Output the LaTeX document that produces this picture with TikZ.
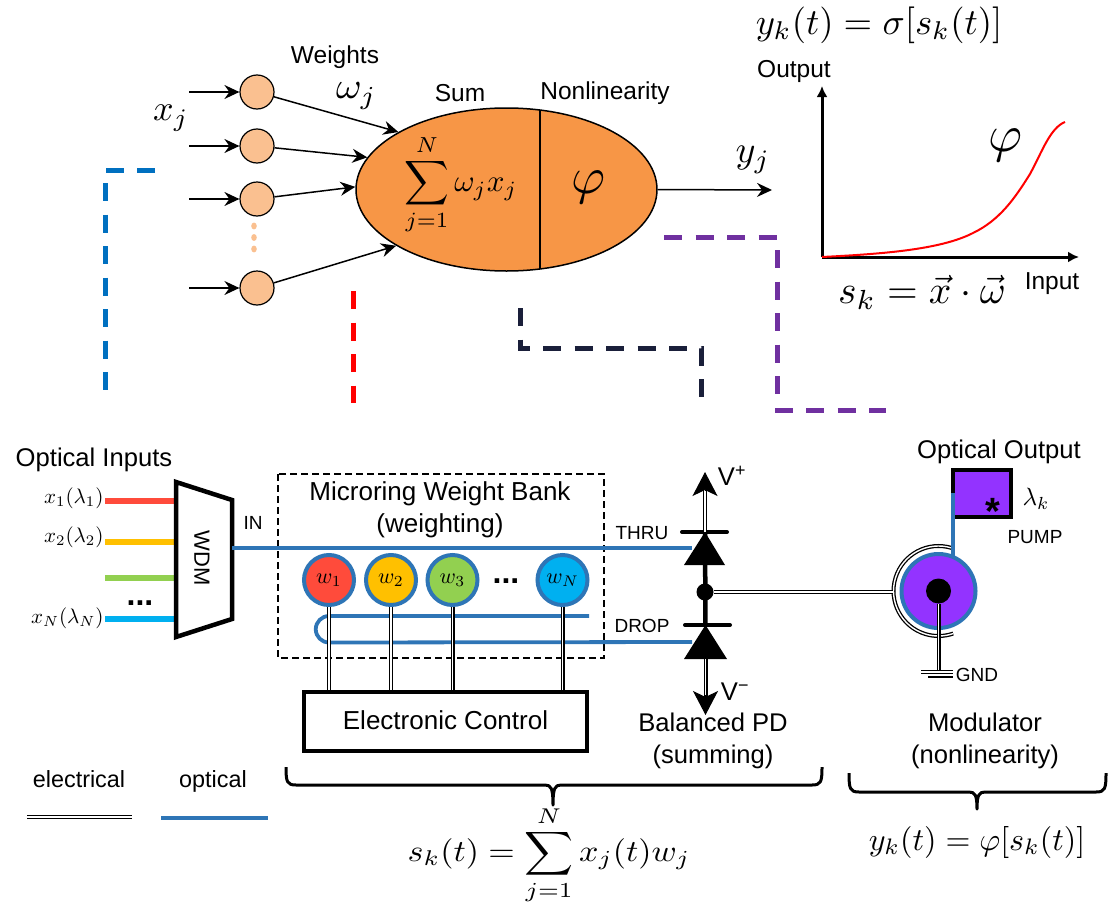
\documentclass[tikz,border=0pt]{standalone}
\usepackage{amsmath}
\usepackage{fontspec}
\setmainfont{Liberation Sans}
\usetikzlibrary{
	arrows.meta,
	shapes.geometric
}
\definecolor{soma}{HTML}{F79646}
\definecolor{peach}{HTML}{FAC090}
\definecolor{wave}{HTML}{2E75B6}
\definecolor{violet}{HTML}{9333FF}
\definecolor{navydash}{HTML}{1A1F3A}
\definecolor{purpledash}{HTML}{7030A0}
\definecolor{bluedash}{HTML}{0070C0}
\definecolor{ringred}{HTML}{FF4B3B}
\definecolor{ringyellow}{HTML}{FFC000}
\definecolor{ringgreen}{HTML}{92D050}
\definecolor{ringblue}{HTML}{00B0F0}
\newcommand{\fs}[1]{\fontsize{#1}{#1}\selectfont}
\tikzset{
	lab/.style={inner sep=0pt, align=center, font=\fs{25.6}},
	toplab/.style={inner sep=0pt, font=\fs{24.5}},
	smalllab/.style={inner sep=0pt, font=\fs{19}},
	mathlab/.style={inner sep=0pt, scale=#1},
	neuron/.style={circle, draw=black, fill=peach, line width=1.2pt, minimum size=34pt, inner sep=0pt},
	ring/.style={circle, draw=wave, line width=4pt, minimum size=50pt, inner sep=0pt},
	feed/.style={line width=1.5pt, -{Stealth[length=15pt,width=14pt,inset=5pt]}},
	elec/.style={draw=black, line width=1.3pt, double=white, double distance=1.4pt},
	optic/.style={draw=wave, line width=3.8pt},
	loopdash/.style={line width=5pt, dash pattern=on 18pt off 13.5pt},
	heavy/.style={draw=black, line width=4.5pt},
	bracket/.style={line width=3pt, line join=round}
}
\begin{document}
\begin{tikzpicture}[x=1pt, y=-1pt]
    \useasboundingbox (0,0) rectangle (1108,902);
    %%%
    %%% Neuron model
    %%%
    \node[ellipse, draw=black, fill=soma, line width=1.5pt, minimum width=301pt, minimum height=163pt, inner sep=0pt] (body) at (506.5,189.5) {};
    \coordinate (divtop) at (540,110);
    \coordinate (divbot) at (540,269);
    \draw[line width=1.4pt] (divtop) -- (divbot);
    % Inputs
    \foreach \name/\y in {n1/92, n2/146, n3/199, n4/288}
    {
        \node[neuron] (\name) at (257,\y) {};
        \coordinate (\name in) at (189,\y);
        \draw[feed] (\name in) -- (\name);
    }
    \draw[feed] (n1) -- (body.152);
    \draw[feed] (n2) -- (body.167);
    \draw[feed] (n3) -- (body.179);
    \draw[feed] (n4) -- (body.207);
    % Dots between inputs
    \foreach \y in {226, 237.5, 249}
    {
        \fill[peach] (254,\y) ellipse (2.8pt and 3.4pt);
    }
    \coordinate (yout) at (772,190);
    \draw[feed] (body.east) -- (yout);
    % Labels
    \node[toplab] (weights) at (335,57) {Weights};
    \node[toplab] (sumlab) at (460,93) {Sum};
    \node[toplab] (nonlin) at (605,93) {Nonlinearity};
    \node[mathlab=1, xscale=3.9, yscale=3.7] (omegaj) at (356.5,96) {$\omega_j$};
    \node[mathlab=3.6] (xj) at (171,118) {$x_j$};
    \node[mathlab=3.8] (yj) at (753,160) {$y_j$};
    \node[mathlab=3.1] (sumform) at (461,185) {$\displaystyle\sum_{j=1}^{N}\omega_j x_j$};
    \node[mathlab=5.2] (phi) at (589,187) {$\varphi$};
    %%%
    %%% Transfer curve
    %%%
    \coordinate (origo) at (822,257);
    \coordinate (ytop) at (822,86);
    \coordinate (xtip) at (1079,257);
    \draw[line width=3pt, -{Latex[length=11pt,width=11pt]}] (origo) -- (ytop);
    \draw[line width=3pt, -{Latex[length=11pt,width=11pt]}] (origo) -- (xtip);
    \draw[red, line width=2pt] (origo) .. controls (880,254) and (940,250) .. (973,233) .. controls (1000,220) and (1015,198) .. (1030,174) .. controls (1042,152) and (1050,128) .. (1065,122);
    \node[mathlab=3.67] (ytitle) at (879,25) {$y_k(t)=\sigma[s_k(t)]$};
    \node[toplab] (outlab) at (794,71) {Output};
    \node[toplab] (inlab) at (1052,284) {Input};
    \node[mathlab=5.2] (phicurve) at (1005,145) {$\varphi$};
    \node[mathlab=3.95] (skdot) at (922,292) {$s_k=\vec{x}\cdot\vec{\omega}$};
    %%%
    %%% Dashed guides
    %%%
    \draw[bluedash, loopdash] (155,170) -- (105,170) -- (105,390);
    \draw[red, loopdash] (353,291) -- (353,403);
    \draw[navydash, loopdash] (520,308) -- (520,348) -- (701,348) -- (701,398);
    \draw[purpledash, loopdash] (664,237) -- (777,237) -- (777,410) -- (886,410);
    %%%
    %%% Optical inputs
    %%%
    \node[lab] (optin) at (94,460) {Optical Inputs};
    \foreach \name/\y/\col in {a/501/ringred, b/542/ringyellow, c/578/ringgreen, d/619/ringblue}
    {
        \coordinate (\name l) at (105,\y);
        \coordinate (\name r) at (176,\y);
        \draw[\col, line width=6pt] (\name l) -- (\name r);
    }
    \node[mathlab=2.1, anchor=east] (xa) at (104,498) {$x_1(\lambda_1)$};
    \node[mathlab=2.1, anchor=east] (xb) at (104,537) {$x_2(\lambda_2)$};
    \node[mathlab=2.1, anchor=east] (xd) at (104,618) {$x_N(\lambda_N)$};
    \node[inner sep=0pt, font=\bfseries\fs{32}] (dotsa) at (140,603) {...};
    % WDM
    \coordinate (wdmtl) at (176,482);
    \coordinate (wdmtr) at (232,500);
    \coordinate (wdmbr) at (232,619);
    \coordinate (wdmbl) at (176,637);
    \draw[heavy, line join=miter] (wdmtl) -- (wdmtr) -- (wdmbr) -- (wdmbl) -- cycle;
    \node[lab, font=\fs{22}, rotate=-90] (wdm) at (202,558) {WDM};
    \node[smalllab] (inport) at (253,523) {IN};
    %%%
    %%% Weight bank
    %%%
    \draw[dashed, line width=1.3pt, dash pattern=on 7pt off 4pt] (278,474) rectangle (604,658);
    \node[lab, font=\fs{26}] (bank) at (440,510) {Microring Weight Bank\\[6pt](weighting)};
    \node[lab, font=\fs{26}, draw=black, line width=4.5pt, minimum width=283pt, minimum height=59pt] (ctrl) at (445.5,721.5) {\raisebox{3pt}{Electronic Control}};
    % Waveguides
    \coordinate (wdmout) at (232,548);
    \coordinate (thru) at (692,548);
    \draw[optic] (wdmout) -- (thru);
    \coordinate (looptop) at (329,616);
    \coordinate (loopend) at (589,616);
    \coordinate (drop) at (692,642);
    \draw[optic] (loopend) -- (looptop) arc (90:270:13.25pt) -- (drop);
    % Rings
    \foreach \name/\x/\col/\lab in {w1/329/ringred/1, w2/391/ringyellow/2, w3/452.5/ringgreen/3, wn/562.5/ringblue/N}
    {
        \node[ring, fill=\col] (\name) at (\x,580) {\scalebox{2.2}{$w_{\lab}$}};
        \draw[elec] (\name) -- (\name |- ctrl.north);
    }
    \node[inner sep=0pt, font=\bfseries\fs{32}] (dotsb) at (506,581) {...};
    %%%
    %%% Balanced PD
    %%%
    \node[circle, fill=black, minimum size=17pt, inner sep=0pt] (mid) at (705,592) {};
    \coordinate (tapex) at (705,532);
    \coordinate (bapex) at (705.5,625);
    \coordinate (vplus) at (705,472);
    \coordinate (vminus) at (705.5,715);
    \draw[black, line width=4.5pt] (tapex) -- (bapex);
    \fill (tapex) -- (725,565) -- (684,565) -- cycle;
    \fill (bapex) -- (727,659) -- (684,659) -- cycle;
    \draw[black, line width=4pt, line cap=round] (682,532) -- (727,532);
    \draw[black, line width=4pt, line cap=round] (685,625) -- (730,625);
    \draw[elec] (tapex) -- (705,488);
    \draw[elec] (705.5,659) -- (705.5,700);
    \draw[-{Stealth[length=24pt,width=25pt,inset=6pt]}, line width=1pt] (705,490) -- (vplus);
    \draw[-{Stealth[length=24pt,width=25pt,inset=6pt]}, line width=1pt] (705.5,695) -- (vminus);
    \node[smalllab] (thrulab) at (642,533) {THRU};
    \node[smalllab] (droplab) at (642,626) {DROP};
    \node[lab] (vp) at (732,476) {V\textsuperscript{+}};
    \node[lab] (vm) at (735,692) {V\textsuperscript{−}};
    \node[lab] (pdlab) at (713,741) {Balanced PD\\[6pt](summing)};
    %%%
    %%% Modulator
    %%%
    \node[circle, draw=wave, fill=violet, line width=4pt, minimum size=74pt, inner sep=0pt] (mod) at (938.5,591) {};
    \node[circle, fill=black, minimum size=25pt, inner sep=0pt] (modcore) at (938.5,591) {};
    \draw[elec] (mod.center) ++(73:45pt) arc (73:289:45pt);
    \draw[elec] (mid) -- (893,592);
    % Pump square
    \coordinate (pumpa) at (953,493);
    \coordinate (pumpb) at (953,470);
    \coordinate (pumpc) at (1011,470);
    \coordinate (pumpd) at (1011,517);
    \coordinate (pumpe) at (953,517);
    \fill[violet] (pumpb) rectangle (pumpd);
    \draw[heavy, line join=miter] (pumpa) -- (pumpb) -- (pumpc) -- (pumpd) -- (pumpe);
    \coordinate (modtop) at (953,556);
    \draw[optic] (pumpa) -- (modtop);
    \node[inner sep=0pt, font=\bfseries\fs{38}] (star) at (992.5,511) {*};
    \node[mathlab=2.5] (lamk) at (1036,499) {$\lambda_k$};
    \node[smalllab] (pump) at (1035,537) {PUMP};
    \node[lab] (optout) at (999,452) {Optical Output};
    % Ground
    \coordinate (gnd) at (938.5,670);
    \draw[elec] (modcore) -- (gnd);
    \draw[line width=1.1pt] (921,670.5) -- (953,670.5);
    \draw[line width=1.1pt] (921,673.5) -- (953,673.5);
    \draw[line width=1.1pt] (928,677) -- (953,677);
    \node[smalllab] (gndlab) at (977,675) {GND};
    \node[lab] (modlab) at (985,741) {Modulator\\[6pt](nonlinearity)};
    %%%
    %%% Legend
    %%%
    \node[toplab, font=\fs{23.4}, anchor=base] (eleclab) at (79,787) {electrical};
    \node[toplab, font=\fs{23.4}, anchor=base] (optlab) at (213,787) {optical};
    \coordinate (ela) at (27,817);
    \coordinate (elb) at (132,817);
    \coordinate (opa) at (161,818);
    \coordinate (opb) at (268,818);
    \draw[elec] (ela) -- (elb);
    \draw[optic] (opa) -- (opb);
    %%%
    %%% Braces and formulas
    %%%
    \draw[bracket] (286,767) .. controls (286,782) and (287,785) .. (296,785) -- (545,785) .. controls (551,785) and (553,788) .. (553,805) .. controls (553,788) and (555,785) .. (561,785) -- (812,785) .. controls (821,785) and (822,782) .. (822,767);
    \draw[bracket] (849,773) .. controls (849,789) and (850,792) .. (859,792) -- (969,792) .. controls (975,792) and (977,795) .. (977,809) .. controls (977,795) and (979,792) .. (985,792) -- (1096,792) .. controls (1105,792) and (1106,789) .. (1106,773);
    \node[mathlab=1, xscale=3.4, yscale=3.05] (skform) at (549,855) {$\displaystyle s_k(t)=\sum_{j=1}^{N}x_j(t)w_j$};
    \node[mathlab=3.2] (ykform) at (977,842) {$y_k(t)=\varphi[s_k(t)]$};
\end{tikzpicture}
\end{document}
